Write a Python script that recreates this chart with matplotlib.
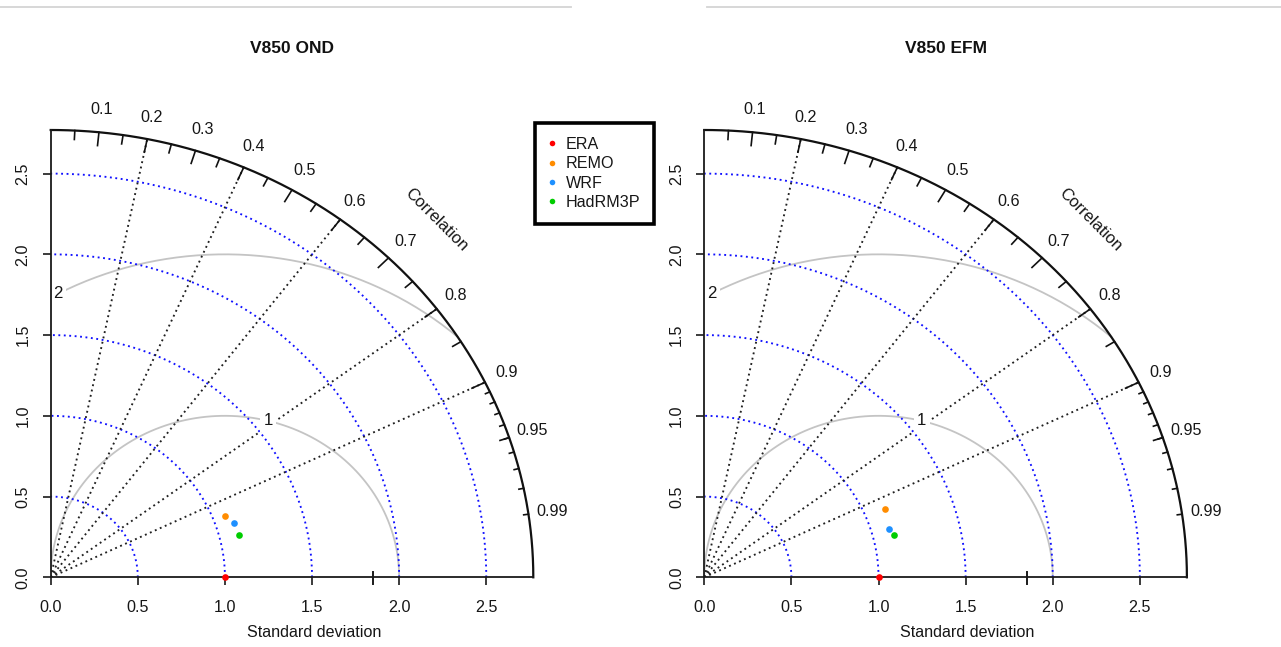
import numpy as np
import matplotlib
matplotlib.use("Agg")
import matplotlib.pyplot as plt
from matplotlib.lines import Line2D
from matplotlib.transforms import blended_transform_factory

plt.rcParams['font.family'] = ['Liberation Sans', 'DejaVu Sans']

# ---- data -------------------------------------------------------------
models = ["ERA", "REMO", "WRF", "HadRM3P"]
model_colors = ["#FF0000", "#FF8C00", "#1E90FF", "#00CD00"]
panel_titles = ["V850 OND", "V850 EFM"]

# normalised standard deviation and correlation against ERA
sd_ond = [1.000, 1.071, 1.107, 1.110]
cor_ond = [1.000, 0.934, 0.952, 0.972]
sd_efm = [1.000, 1.121, 1.104, 1.123]
cor_efm = [1.000, 0.925, 0.962, 0.972]

ref_sd = 1.0
max_ray = 2.77
sd_ticks = [0.0, 0.5, 1.0, 1.5, 2.0, 2.5]
sd_arcs = [0.5, 1.0, 1.5, 2.0, 2.5]
grad_corr_lines = [0.2, 0.4, 0.6, 0.8, 0.9]
corr_labels = [0.1, 0.2, 0.3, 0.4, 0.5, 0.6, 0.7, 0.8, 0.9, 0.95, 0.99]
rms_levels = [1, 2]
rms_label_angles = [1.32, 2.07]
extra_axis_tick = 1.85

FS = 11.6
TXT = "#161616"


def taylor_panel(ax, sds, cors, title):
    ax.set_xlim(0, max_ray)
    ax.set_ylim(0, max_ray)
    for s in ("top", "right"):
        ax.spines[s].set_visible(False)
    for s in ("bottom", "left"):
        ax.spines[s].set_bounds(0, max_ray)
        ax.spines[s].set_linewidth(1.3)
        ax.spines[s].set_color("#1a1a1a")
        ax.spines[s].set_zorder(5)
    ax.set_xticks(sd_ticks)
    ax.set_yticks(sd_ticks)
    ax.set_xticklabels([f"{v:.1f}" for v in sd_ticks])
    ax.set_yticklabels([f"{v:.1f}" for v in sd_ticks])
    ax.tick_params(axis="both", direction="out", length=5.5, width=1.2,
                   color="#1a1a1a", labelsize=FS, labelcolor=TXT)
    ax.tick_params(axis="x", pad=10.5)
    ax.tick_params(axis="y", pad=9)
    for lab in ax.get_yticklabels():
        lab.set_rotation(90)
        lab.set_va("center")

    # standard deviation arcs
    th = np.linspace(0, np.pi / 2, 300)
    for r in sd_arcs:
        ax.plot(r * np.cos(th), r * np.sin(th), color="#1010FF", lw=1.35,
                ls=(0, (1, 1.9)), zorder=2)

    # correlation rays
    for c in grad_corr_lines:
        a = np.arccos(c)
        ax.plot([0, max_ray * np.cos(a)], [0, max_ray * np.sin(a)],
                color="#202020", lw=1.35, ls=(0, (1, 1.9)), zorder=2)

    # centred RMS difference circles
    t = np.arange(0, np.pi, 0.03)
    for g, lt in zip(rms_levels, rms_label_angles):
        x = ref_sd + g * np.cos(t)
        y = g * np.sin(t)
        keep = (x >= 0) & (x * x + y * y <= max_ray ** 2)
        ax.plot(x[keep], y[keep], color="#C4C4C4", lw=1.3, zorder=1)
        ax.text(ref_sd + g * np.cos(lt), g * np.sin(lt), str(g),
                ha="center", va="center", fontsize=FS + 0.5, color=TXT,
                bbox=dict(facecolor="white", edgecolor="none", pad=2.5),
                zorder=2.2, clip_on=False)

    # outer correlation arc
    ax.plot(max_ray * np.cos(th), max_ray * np.sin(th), color="#111111",
            lw=1.6, clip_on=False, zorder=4)

    # ticks on the correlation arc
    def arc_ticks(vals, frac):
        for v in vals:
            a = np.arccos(v)
            ax.plot([max_ray * np.cos(a), frac * max_ray * np.cos(a)],
                    [max_ray * np.sin(a), frac * max_ray * np.sin(a)],
                    color="#111111", lw=1.2, clip_on=False, zorder=4)

    arc_ticks(np.arange(1, 10) / 10.0, 0.97)
    arc_ticks(np.arange(0.05, 1.0, 0.1), 0.98)
    arc_ticks(np.arange(91, 100) / 100.0, 0.99)

    for v in corr_labels:
        a = np.arccos(v)
        ax.text(1.05 * max_ray * np.cos(a), 1.05 * max_ray * np.sin(a),
                f"{v:g}", ha="center", va="center", fontsize=FS,
                color=TXT, clip_on=False)

    ax.text(0.8 * max_ray, 0.8 * max_ray, "Correlation", rotation=-45,
            ha="center", va="center", rotation_mode="anchor",
            fontsize=FS + 0.4, color=TXT)

    # extra tick crossing the sd axis
    ax.plot([extra_axis_tick, extra_axis_tick], [-0.04, 0.035],
            color="#1a1a1a", lw=1.4, clip_on=False, zorder=5)

    # model points
    sds = np.asarray(sds)
    cors = np.asarray(cors)
    px = sds * cors
    py = sds * np.sqrt(np.clip(1 - cors ** 2, 0, None))
    for xi, yi, col in zip(px, py, model_colors):
        ax.plot(xi, yi, "o", color=col, markersize=4.8, markeredgewidth=0,
                clip_on=False, zorder=6)

    ax.text(0.5, 1.183, title, transform=ax.transAxes, ha="center",
            va="center", fontsize=12.5, fontweight="bold", color="#111111")
    tr = blended_transform_factory(ax.transData, ax.transAxes)
    ax.text(1.51, -0.1245, "Standard deviation", transform=tr, ha="center",
            va="center", fontsize=FS, color=TXT)


W, H = 1281, 647
fig = plt.figure(figsize=(W / 100, H / 100), dpi=100)
ax_w, ax_h = 482.6, 447.3
ax1 = fig.add_axes([50.7 / W, (H - 577.3) / H, ax_w / W, ax_h / H])
ax2 = fig.add_axes([704.3 / W, (H - 577.3) / H, ax_w / W, ax_h / H])

taylor_panel(ax1, sd_ond, cor_ond, panel_titles[0])
taylor_panel(ax2, sd_efm, cor_efm, panel_titles[1])

handles = [Line2D([], [], ls="", marker="o", color=c, markersize=4,
                  markeredgewidth=0) for c in model_colors]
leg = fig.legend(handles, models, loc="upper left",
                 bbox_to_anchor=(534.7 / W, 1 - 123.3 / H),
                 frameon=True, fancybox=False, framealpha=1,
                 edgecolor="black", fontsize=FS, borderpad=0.85,
                 handlelength=0.5, handletextpad=0.6, labelspacing=0.27,
                 borderaxespad=0)
leg.get_frame().set_linewidth(2.6)
for txt in leg.get_texts():
    txt.set_color(TXT)

# thin separators along the top edge
for x0, x1 in ((0, 571), (707, W)):
    fig.add_artist(Line2D([x0 / W, x1 / W], [1 - 7.3 / H] * 2,
                          color="#D4D4D4", lw=1.3))

fig.savefig("out.png", dpi=100)
